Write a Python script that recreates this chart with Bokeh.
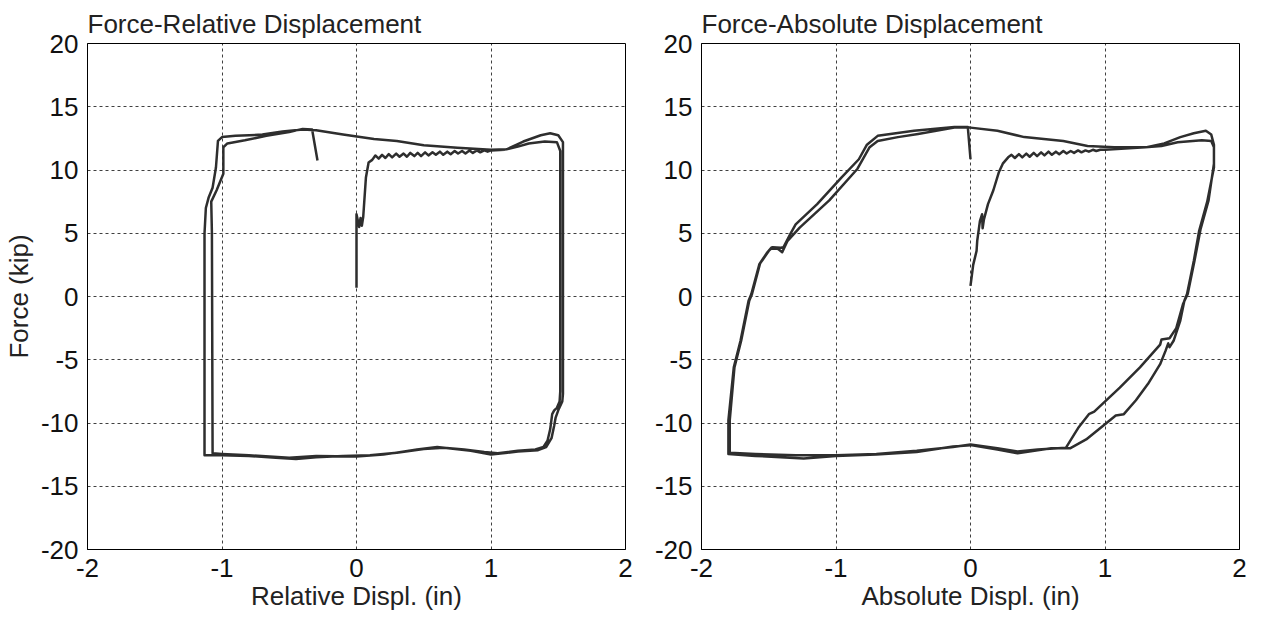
from bokeh.plotting import figure
from bokeh.layouts import row
from bokeh.models import FixedTicker, Range1d, PrintfTickFormatter
from bokeh.embed import file_html
from bokeh.resources import INLINE

# ---------------- data ----------------
x_ticks = [-2, -1, 0, 1, 2]
y_ticks = [-20, -15, -10, -5, 0, 5, 10, 15, 20]

# Force - Relative displacement
rel_load_x = [0.0, 0.0, 0.0, 0.02, 0.03, 0.04, 0.05, 0.07, 0.09, 0.117,
              0.14, 0.165, 0.19, 0.215, 0.24, 0.265, 0.295, 0.32, 0.35, 0.375,
              0.40, 0.43, 0.455, 0.48, 0.51, 0.535, 0.565, 0.59, 0.62, 0.645,
              0.675, 0.70, 0.73, 0.755, 0.785, 0.81, 0.84, 0.865, 0.895, 0.92,
              0.95, 0.975, 1.0, 1.1, 1.2, 1.28, 1.4, 1.49, 1.515]
rel_load_y = [0.7, 4.0, 6.5, 5.5, 6.2, 5.6, 6.3, 9.4, 10.6, 10.8,
              11.15, 10.9, 11.2, 10.95, 11.25, 11.0, 11.3, 11.05, 11.3, 11.05,
              11.35, 11.1, 11.35, 11.1, 11.4, 11.15, 11.4, 11.2, 11.45, 11.2,
              11.45, 11.25, 11.5, 11.3, 11.5, 11.3, 11.55, 11.35, 11.55, 11.4,
              11.55, 11.45, 11.55, 11.6, 11.85, 12.1, 12.25, 12.2, 11.5]

rel_c1_x = [1.515, 1.515, 1.51, 1.49, 1.47, 1.455, 1.44, 1.42, 1.39, 1.33,
            1.2, 1.05, 0.95, 0.8, 0.65, 0.5, 0.3, 0.1, -0.1, -0.3,
            -0.45, -0.6, -0.8, -1.0, -1.13,
            -1.13, -1.13, -1.12, -1.10, -1.07, -1.045, -1.03, -1.0, -0.9, -0.7,
            -0.55, -0.4, -0.3, -0.1, 0.13, 0.3, 0.5, 0.75, 1.0, 1.12,
            1.24, 1.37, 1.44, 1.50, 1.535]
rel_c1_y = [10.5, -7.5, -8.3, -8.8, -9.0, -9.3, -10.5, -11.4, -11.9, -12.1,
            -12.2, -12.4, -12.3, -12.1, -11.95, -12.05, -12.35, -12.55, -12.6, -12.7,
            -12.85, -12.75, -12.6, -12.55, -12.55,
            -12.0, 5.0, 7.0, 7.8, 8.6, 10.2, 12.3, 12.6, 12.7, 12.8,
            13.05, 13.2, 13.15, 12.8, 12.45, 12.3, 11.95, 11.75, 11.6, 11.65,
            12.25, 12.75, 12.9, 12.75, 12.2]

rel_c2_x = [1.535, 1.535, 1.53, 1.50, 1.48, 1.47, 1.45, 1.41, 1.35, 1.2,
            1.0, 0.85, 0.6, 0.45, 0.2, 0.0, -0.3, -0.5, -0.8, -1.0,
            -1.07,
            -1.07, -1.075, -1.08, -1.04, -0.99, -0.99, -0.96, -0.83, -0.67, -0.5,
            -0.4, -0.33, -0.29]
rel_c2_y = [11.0, -7.7, -8.3, -9.0, -9.6, -10.2, -11.2, -11.9, -12.15, -12.25,
            -12.5, -12.2, -11.9, -12.1, -12.5, -12.65, -12.6, -12.75, -12.55, -12.45,
            -12.4,
            -12.0, 5.0, 7.5, 8.4, 9.7, 11.8, 12.1, 12.35, 12.7, 13.0,
            13.25, 13.2, 10.75]

# Force - Absolute displacement
abs_load_x = [0.0, 0.02, 0.045, 0.05, 0.07, 0.086, 0.09, 0.10, 0.13, 0.17,
              0.21, 0.24, 0.28, 0.305, 0.33, 0.36, 0.385, 0.415, 0.44, 0.47,
              0.495, 0.525, 0.55, 0.58, 0.605, 0.635, 0.66, 0.69, 0.715, 0.745,
              0.77, 0.80, 0.825, 0.855, 0.88, 0.91, 0.935, 0.965, 1.0, 1.15,
              1.3, 1.42, 1.54, 1.72, 1.79, 1.81]
abs_load_y = [0.84, 2.5, 3.6, 4.4, 5.96, 6.5, 5.4, 6.1, 7.3, 8.4,
              9.8, 10.5, 11.0, 11.2, 10.95, 11.25, 11.0, 11.3, 11.05, 11.35,
              11.1, 11.4, 11.15, 11.45, 11.2, 11.45, 11.25, 11.5, 11.3, 11.5,
              11.35, 11.55, 11.4, 11.55, 11.45, 11.6, 11.5, 11.6, 11.6, 11.7,
              11.8, 11.9, 12.2, 12.35, 12.3, 11.8]

abs_c1_x = [1.81, 1.76, 1.70, 1.66, 1.61, 1.59, 1.56, 1.51, 1.48, 1.47,
            1.45, 1.41, 1.32, 1.23, 1.14, 1.08, 1.0, 0.86, 0.74, 0.6,
            0.5, 0.35, 0.2, 0.0, -0.13, -0.4, -0.7, -1.0, -1.24, -1.6,
            -1.80,
            -1.80, -1.76, -1.71, -1.65, -1.63, -1.57, -1.51, -1.48, -1.43, -1.40,
            -1.36, -1.27, -1.05, -0.84, -0.75, -0.69, -0.54, -0.39, -0.12, 0.0,
            0.2, 0.4, 0.69, 0.87, 1.07, 1.31, 1.44, 1.56, 1.66, 1.75,
            1.79, 1.81]
abs_c1_y = [10.2, 7.5, 5.2, 2.8, 0.2, -0.34, -1.9, -3.5, -4.0, -3.7,
            -4.3, -5.35, -6.9, -8.2, -9.3, -9.4, -10.1, -11.3, -12.0, -12.0,
            -12.15, -12.4, -12.1, -11.75, -11.85, -12.3, -12.5, -12.6, -12.8, -12.6,
            -12.45,
            -9.8, -5.6, -3.5, -0.34, 0.18, 2.55, 3.5, 3.87, 3.75, 3.5,
            4.4, 5.45, 7.6, 10.1, 11.8, 12.3, 12.6, 12.85, 13.35, 13.35,
            13.1, 12.6, 12.3, 11.9, 11.8, 11.8, 12.1, 12.6, 12.9, 13.1,
            12.8, 12.0]

abs_c2_x = [1.81, 1.77, 1.71, 1.665, 1.615, 1.58, 1.53, 1.48, 1.42, 1.41,
            1.26, 1.11, 0.92, 0.88, 0.80, 0.71, 0.5, 0.35, 0.2, 0.0,
            -0.13, -0.4, -0.7, -1.0, -1.3, -1.6, -1.79,
            -1.79, -1.755, -1.705, -1.645, -1.625, -1.565, -1.50, -1.47, -1.41, -1.39,
            -1.34, -1.30, -1.14, -0.96, -0.83, -0.77, -0.69, -0.42, -0.12, -0.02,
            0.0]
abs_c2_y = [10.5, 7.6, 5.3, 2.8, 0.2, -0.6, -2.5, -3.3, -3.4, -3.8,
            -5.6, -7.2, -9.1, -9.3, -10.4, -11.95, -12.1, -12.25, -12.0, -11.7,
            -11.9, -12.2, -12.45, -12.55, -12.55, -12.45, -12.35,
            -9.8, -5.6, -3.5, -0.34, 0.18, 2.6, 3.6, 3.9, 3.85, 3.9,
            4.93, 5.7, 7.3, 9.4, 10.85, 12.0, 12.7, 13.1, 13.4, 13.4,
            10.85]

FONT = "Liberation Sans"
LINE = "#2e2e2e"
FS = "26px"


def make_panel(title, xlabel, ylabel, xs, ys, width, bl, br):
    p = figure(width=width, height=620, output_backend="svg", toolbar_location=None,
               x_range=Range1d(-2, 2), y_range=Range1d(-20, 20),
               min_border_left=bl, min_border_right=br, min_border_top=43,
               min_border_bottom=71, title=title)
    p.title.text_font = FONT
    p.title.text_font_size = FS
    p.title.text_font_style = "normal"
    p.title.text_color = "#222222"
    p.title.align = "left"
    p.title.standoff = 9
    for ax in (p.xaxis[0], p.yaxis[0]):
        ax.major_label_text_font = FONT
        ax.major_label_text_font_size = FS
        ax.major_label_text_color = "#111111"
        ax.axis_label_text_font = FONT
        ax.axis_label_text_font_size = FS
        ax.axis_label_text_font_style = "normal"
        ax.axis_label_text_color = "#222222"
        ax.major_tick_in = 0
        ax.major_tick_out = 0
        ax.minor_tick_in = 0
        ax.minor_tick_out = 0
        ax.axis_line_color = "black"
        ax.formatter = PrintfTickFormatter(format="%d")
    p.xaxis.ticker = FixedTicker(ticks=x_ticks)
    p.yaxis.ticker = FixedTicker(ticks=y_ticks)
    p.xaxis.major_label_standoff = 9
    p.yaxis.major_label_standoff = 9
    p.xaxis.axis_label_standoff = 1
    p.yaxis.axis_label_standoff = 4
    p.xaxis.axis_label = xlabel
    if ylabel:
        p.yaxis.axis_label = ylabel
    p.xgrid.ticker = FixedTicker(ticks=x_ticks)
    p.ygrid.ticker = FixedTicker(ticks=y_ticks)
    for g in (p.xgrid[0], p.ygrid[0]):
        g.grid_line_color = "black"
        g.grid_line_dash = "3 3"
        g.grid_line_alpha = 0.75
        g.grid_line_width = 1
    p.outline_line_color = "black"
    p.outline_line_width = 1
    p.outline_line_alpha = 1
    p.line(xs, ys, line_color=LINE, line_width=2.5, line_join="round")
    return p


rel_x = rel_load_x + rel_c1_x + rel_c2_x
rel_y = rel_load_y + rel_c1_y + rel_c2_y
abs_x = abs_load_x + abs_c1_x + abs_c2_x
abs_y = abs_load_y + abs_c1_y + abs_c2_y

p1 = make_panel("Force-Relative Displacement", "Relative Displ. (in)", "Force (kip)",
                rel_x, rel_y, 636, 87, 11)
p2 = make_panel("Force-Absolute Displacement", "Absolute Displ. (in)", None,
                abs_x, abs_y, 632, 65, 29)

layout = row(p1, p2)
open("out.html", "w").write(file_html(layout, INLINE))
